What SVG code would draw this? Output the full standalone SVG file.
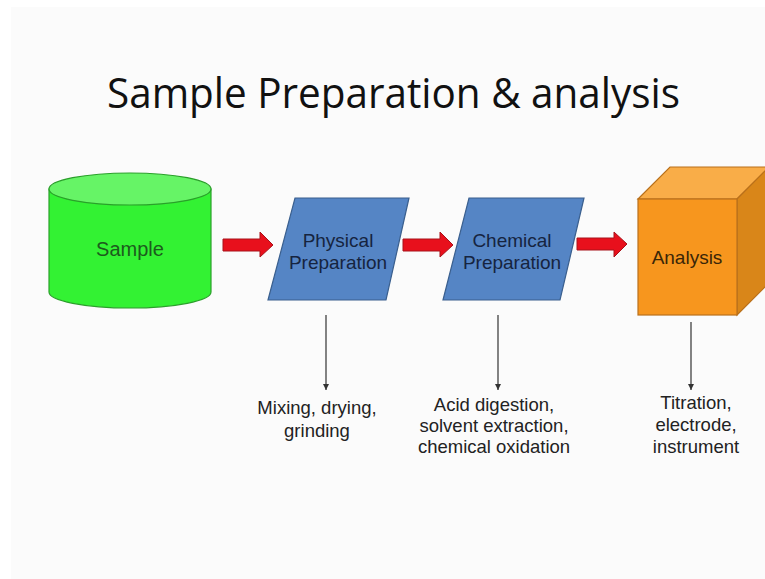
<svg xmlns="http://www.w3.org/2000/svg" width="765" height="579" viewBox="0 0 765 579">
  <defs>
    <style>
      .title { font-family: "Open Sans", "Noto Sans", "Liberation Sans", sans-serif; font-size: 42px; fill: #111; }
      .lbl { font-family: "Liberation Sans", Arial, sans-serif; font-size: 19px; text-anchor: middle; }
      .note { font-family: "Liberation Sans", Arial, sans-serif; font-size: 18.5px; fill: #222; text-anchor: middle; }
      .flow { fill: #e8101c; stroke: #a8121a; stroke-width: 1; }
      .drop { stroke: #333; stroke-width: 1.2; fill: none; marker-end: url(#tip); }
      .para { fill: #5585c5; stroke: #3a5f8e; stroke-width: 1.2; }
    </style>
    <marker id="tip" markerWidth="8" markerHeight="8" refX="6" refY="4" orient="auto" markerUnits="userSpaceOnUse">
      <path d="M0,1 L6,4 L0,7 Z" fill="#333"/>
    </marker>
  </defs>

  <!-- page -->
  <rect x="0" y="0" width="765" height="579" fill="#ffffff"/>
  <rect x="11" y="7" width="754" height="572" fill="#fbfbfb"/>

  <text class="title" x="107" y="108" textLength="573" lengthAdjust="spacingAndGlyphs">Sample Preparation &amp; analysis</text>

  <!-- Sample: cylinder -->
  <g id="sample">
    <path d="M49,189 L49,292 A81,16 0 0 0 211,292 L211,189 Z" fill="#33f233" stroke="#2aa02a" stroke-width="1.2"/>
    <ellipse cx="130" cy="189" rx="81" ry="16" fill="#66f466" stroke="#2aa02a" stroke-width="1.2"/>
    <text class="lbl" x="130" y="256" fill="#1d5a1d" style="font-size:20px">Sample</text>
  </g>

  <!-- Physical Preparation -->
  <g id="physical">
    <polygon class="para" points="295,198 409,198 386,300 268,300"/>
    <text class="lbl" x="338" y="247" fill="#16243f">Physical</text>
    <text class="lbl" x="338" y="269" fill="#16243f">Preparation</text>
  </g>

  <!-- Chemical Preparation -->
  <g id="chemical">
    <polygon class="para" points="469,198 584,198 560,300 443,300"/>
    <text class="lbl" x="512" y="247" fill="#16243f">Chemical</text>
    <text class="lbl" x="512" y="269" fill="#16243f">Preparation</text>
  </g>

  <!-- Analysis: cube -->
  <g id="analysis">
    <polygon points="638,199 670,167 769,167 737,199" fill="#f9ad48" stroke="#b9701b" stroke-width="1.2"/>
    <polygon points="737,199 769,167 769,283 737,315" fill="#d98619" stroke="#b9701b" stroke-width="1.2"/>
    <rect x="638" y="199" width="99" height="116" fill="#f7961e" stroke="#b9701b" stroke-width="1.2"/>
    <text class="lbl" x="687" y="264" fill="#3a2608">Analysis</text>
  </g>

  <!-- connectors -->
  <g id="connectors">
    <polygon class="flow" points="223,239 260,239 260,232 273,245 260,257 260,251 223,251"/>
    <polygon class="flow" points="403,239 440,239 440,232 453,245 440,257 440,251 403,251"/>
    <polygon class="flow" points="577,238 614,238 614,232 627,244 614,257 614,250 577,250"/>
    <line class="drop" x1="326" y1="315" x2="326" y2="390"/>
    <line class="drop" x1="498" y1="315" x2="498" y2="390"/>
    <line class="drop" x1="691" y1="322" x2="691" y2="390"/>
  </g>

  <!-- outcome notes -->
  <g id="notes">
    <text class="note" x="317" y="414">Mixing, drying,</text>
    <text class="note" x="317" y="437">grinding</text>
    <text class="note" x="494" y="411">Acid digestion,</text>
    <text class="note" x="494" y="432">solvent extraction,</text>
    <text class="note" x="494" y="453">chemical oxidation</text>
    <text class="note" x="696" y="409">Titration,</text>
    <text class="note" x="696" y="431">electrode,</text>
    <text class="note" x="696" y="453">instrument</text>
  </g>
</svg>
